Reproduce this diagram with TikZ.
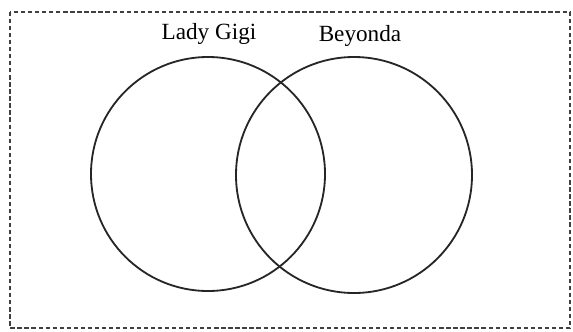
\documentclass[tikz,border=0pt]{standalone}
\usepackage{fontspec}
\setmainfont{Liberation Serif}
\usepackage{tikz}
\usetikzlibrary{positioning}

\begin{document}
\begin{tikzpicture}[x=0.025cm, y=-0.025cm,
    set/.style={circle, draw=black!85, line width=1.3pt, inner sep=0pt},
    setlabel/.style={font=\fontsize{16.5}{18}\selectfont, inner sep=0pt}]

    \useasboundingbox (0,0) rectangle (573,331);

    % frame
    \draw [black!75, line width=1.2pt, dash pattern=on 3pt off 2pt] (10,12) rectangle (570,328);

    % sets
    \node [set, minimum size=234*0.025cm] (gigi) at (208,174) {};
    \node [set, minimum size=236*0.025cm] (beyonda) at (354,175) {};

    % names
    \node [setlabel] (gigilabel) at (209,34) {Lady Gigi};
    \node [setlabel] (beyondalabel) at (360,36) {Beyonda};

\end{tikzpicture}
\end{document}
